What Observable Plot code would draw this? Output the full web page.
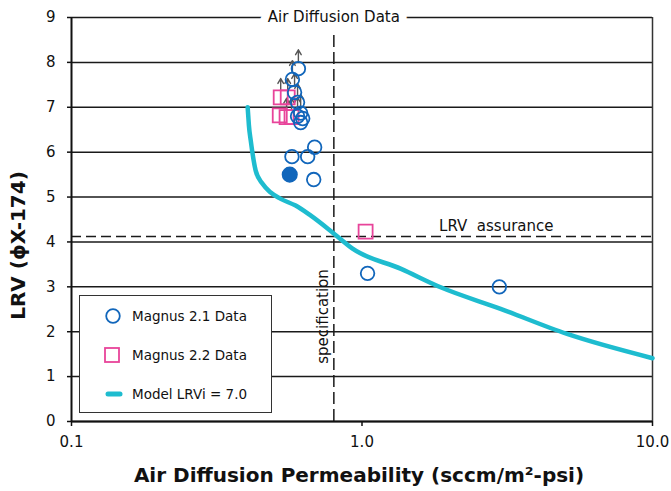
<!DOCTYPE html>
<html>
<head>
<meta charset="utf-8">
<script src="https://cdn.jsdelivr.net/npm/d3@7"></script>
<script src="https://cdn.jsdelivr.net/npm/@observablehq/plot@0.6"></script>
<style>
  html, body { margin: 0; padding: 0; background: #fff; }
  #wrap { position: relative; width: 671px; height: 491px; font-family: "DejaVu Sans", Verdana, sans-serif; }
  #legend { position: absolute; left: 79px; top: 295px; width: 191px; height: 116px; border: 1.5px solid #333; background: #fff; }
  .item { position: absolute; left: 0; height: 20px; display: flex; align-items: center; font-size: 13.5px; color: #111; }
  .item svg { width: 52px; height: 20px; }
</style>
</head>
<body>
<div id="wrap"><div id="legend"></div></div>
<script>
// ---- data ----
const yTicks = [0, 1, 2, 3, 4, 5, 6, 7, 8, 9];
const xTicks = [0.1, 1, 10];
const specLimit = 0.8;       // air diffusion specification
const lrvAssurance = 4.12;   // LRV assurance level

// Magnus 2.1 data (open circles); cens = value is a lower bound (arrow)
const m21x = [0.604, 0.576, 0.586, 0.600, 0.615, 0.625, 0.615, 0.600, 0.687, 0.574, 0.650, 0.682, 1.045, 2.97];
const m21y = [7.86, 7.62, 7.33, 7.11, 6.87, 6.75, 6.66, 6.80, 6.11, 5.90, 5.90, 5.39, 3.30, 3.00];
const m21c = [true, true, true, true, true, false, false, true, false, false, false, false, false, false];
// Magnus 2.1 filled point
const m21fx = [0.564];
const m21fy = [5.50];
// Magnus 2.2 data (open squares)
const m22x = [0.525, 0.555, 0.521, 0.550, 0.572, 1.029];
const m22y = [7.22, 7.22, 6.82, 6.78, 6.78, 4.23];
const m22c = [true, true, false, true, true, false];
// Model LRVi = 7.0 curve
const modelX = [0.404, 0.406, 0.408, 0.414, 0.4305, 0.454, 0.485, 0.525, 0.591, 0.665, 0.799, 0.928, 1.363, 1.865, 3.0, 5.08, 10.0];
const modelY = [7.00, 6.80, 6.60, 6.26, 5.59, 5.30, 5.10, 4.96, 4.81, 4.59, 4.19, 3.85, 3.40, 2.99, 2.51, 1.95, 1.41];

const legendLabels = ["Magnus 2.1 Data", "Magnus 2.2 Data", "Model LRVi = 7.0"];
const xLabel = "Air Diffusion Permeability (sccm/m²-psi)";
const yLabel = "LRV (\u03D5X-174)";
const title = "Air Diffusion Data";
const specLabel = "specification";
const assuranceLabel = "LRV\u00A0 assurance";

// ---- build tables ----
const blue = "#1166bb", pink = "#e8449a", cyan = "#1ebccf";
const m21 = m21x.map((x, i) => ({x, y: m21y[i], cens: m21c[i]}));
const m21f = m21fx.map((x, i) => ({x, y: m21fy[i]}));
const m22 = m22x.map((x, i) => ({x, y: m22y[i], cens: m22c[i]}));
const model = modelX.map((x, i) => ({x, y: modelY[i]}));
const cens = [...m21, ...m22].filter(d => d.cens);

const chart = Plot.plot({
  width: 671,
  height: 491,
  marginLeft: 71,
  marginRight: 19,
  marginTop: 17,
  marginBottom: 70,
  style: {fontFamily: "DejaVu Sans, Verdana, sans-serif", fontSize: "15px", color: "#111", background: "#fff"},
  x: {type: "log", domain: [0.1, 10]},
  y: {domain: [0, 9]},
  marks: [
    Plot.ruleY(yTicks, {stroke: "#1a1a1a", strokeWidth: 1.5}),
    Plot.ruleX([10], {stroke: "#333", strokeWidth: 1.5}),
    Plot.ruleY([lrvAssurance], {stroke: "#1a1a1a", strokeWidth: 1.5, strokeDasharray: "10,5"}),
    Plot.ruleX([specLimit], {y1: 0, y2: 9, stroke: "#1a1a1a", strokeWidth: 1.5, strokeDasharray: "12,5"}),
    Plot.line(model, {x: "x", y: "y", stroke: cyan, strokeWidth: 4.5, curve: "monotone-x"}),
    Plot.arrow(cens, {x1: "x", x2: "x", y1: "y", y2: d => d.y + 0.42, insetStart: 7, stroke: "#555", strokeWidth: 1.4, headLength: 6}),
    Plot.dot(m22, {x: "x", y: "y", symbol: "square", r: 7.9, stroke: pink, strokeWidth: 1.8, fill: "none"}),
    Plot.dot(m21, {x: "x", y: "y", r: 6.8, stroke: blue, strokeWidth: 1.8, fill: "none"}),
    Plot.dot(m21f, {x: "x", y: "y", r: 7.3, fill: blue, stroke: blue}),
    Plot.text([assuranceLabel], {x: 2.9, y: lrvAssurance, dy: -10, fontSize: 15, fill: "#111"}),
    Plot.text([specLabel], {x: specLimit, y: 2.34, dx: -11, rotate: -90, fontSize: 15, fill: "#111"}),
    Plot.axisY({ticks: yTicks, tickSize: 4, tickPadding: 12, label: null, fontSize: 15, stroke: "#111", strokeWidth: 1.5}),
    Plot.axisX({ticks: xTicks, tickFormat: d => d.toFixed(1), tickSize: 5, tickPadding: 10, label: null, fontSize: 15, stroke: "#111", strokeWidth: 1.5}),
    Plot.ruleX([0.1], {stroke: "#111", strokeWidth: 2}),
    Plot.ruleY([0], {stroke: "#111", strokeWidth: 2}),
    Plot.text([title], {x: specLimit, y: 9, fontSize: 15, fill: "#111", stroke: "#fff", strokeWidth: 16}),
    Plot.text([yLabel], {frameAnchor: "left", textAnchor: "middle", lineAnchor: "middle", dx: -53, dy: 26, rotate: -90, fontSize: 20, fontWeight: "bold", fill: "#111"}),
    Plot.text([xLabel], {frameAnchor: "bottom", textAnchor: "middle", lineAnchor: "middle", dx: -3, dy: 54, fontSize: 20, fontWeight: "bold", fill: "#111"})
  ]
});
document.getElementById("wrap").prepend(chart);

// ---- legend ----
const legend = document.getElementById("legend");
const symbols = [
  `<svg><circle cx="33" cy="10" r="6.8" fill="none" stroke="${blue}" stroke-width="1.8"/></svg>`,
  `<svg><rect x="25" y="3" width="14" height="14" fill="none" stroke="${pink}" stroke-width="1.8"/></svg>`,
  `<svg><line x1="28" y1="10" x2="40" y2="10" stroke="${cyan}" stroke-width="5" stroke-linecap="round"/></svg>`
];
const tops = [10, 49, 88];
legendLabels.forEach((lab, i) => {
  const d = document.createElement("div");
  d.className = "item";
  d.style.top = tops[i] + "px";
  d.innerHTML = symbols[i] + `<span>${lab}</span>`;
  legend.appendChild(d);
});
</script>
</body>
</html>
